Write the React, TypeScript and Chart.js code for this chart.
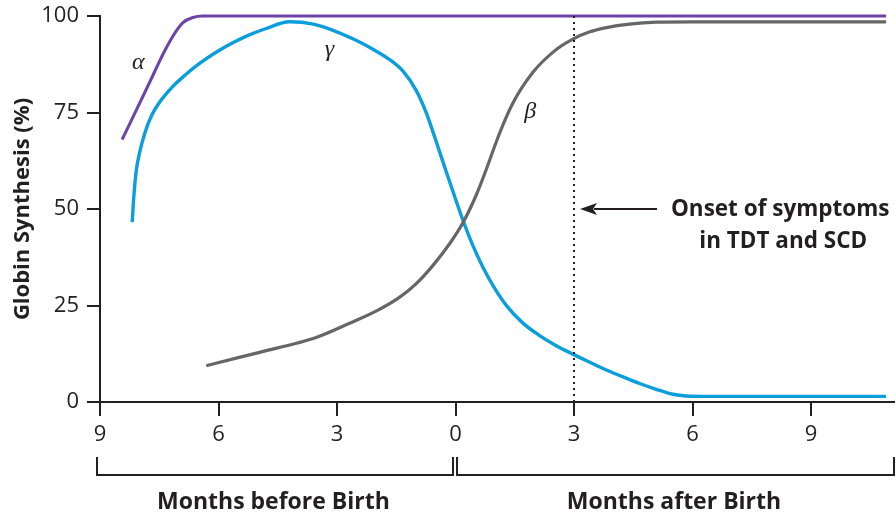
import { useEffect, useRef } from "react";
import { Chart, registerables } from "chart.js";

Chart.register(...registerables);

// ---- data (months relative to birth; negative = before birth) ----
const alphaMonths = [-8.44, -7.8, -7.37, -7.11, -6.9, -6.65, -6.4, -5, 0, 5, 10.9];
const alphaValues = [68, 81.6, 90.8, 95.5, 98.3, 99.6, 100, 100, 100, 100, 100];

const gammaMonths = [
  -8.185, -8.14, -8.08, -8.0, -7.87, -7.7, -7.49, -7.19, -6.82, -6.48, -6.06, -5.65, -5.22, -4.81, -4.2,
  -3.6, -3.1, -2.6, -2.18, -1.67, -1.33, -1.0, -0.74, -0.5, -0.25, 0, 0.18, 0.44, 0.69, 1.0, 1.28, 1.7,
  2.13, 2.55, 2.97, 3.4, 3.82, 4.24, 4.66, 5.08, 5.5, 5.85, 6.3, 10.9,
];
const gammaValues = [
  46.6, 53.7, 60.1, 64.5, 69.5, 74.1, 77.7, 81.4, 84.9, 87.7, 90.6, 93.0, 95.1, 96.7, 98.5,
  97.9, 96.3, 94.1, 91.9, 88.7, 85.7, 80.8, 74.9, 67.8, 60.1, 52.6, 47.3, 40.5, 35.0, 29.3, 25.1, 20.5,
  17.2, 14.6, 12.4, 10.3, 8.3, 6.5, 4.8, 3.3, 2.0, 1.55, 1.45, 1.45,
];

const betaMonths = [
  -6.31, -5.5, -4.79, -4.0, -3.53, -2.68, -2.0, -1.42, -1.0, -0.57, -0.15, 0.18, 0.52, 0.78, 1.11, 1.45,
  1.96, 2.5, 2.97, 3.4, 3.82, 4.4, 5.08, 6.0, 10.9,
];
const betaValues = [
  9.4, 11.5, 13.3, 15.3, 16.7, 20.4, 23.6, 27.1, 30.6, 35.4, 41.0, 46.3, 53.5, 60.3, 69.5, 77.4,
  85.4, 90.9, 94.0, 95.9, 97.0, 97.9, 98.4, 98.5, 98.5,
];

const onsetMonths = [3, 3];
const onsetValues = [0, 100];

const xTickValues = [-9, -6, -3, 0, 3, 6, 9];
const yTickValues = [0, 25, 50, 75, 100];

const seriesNames = ["α", "γ", "β"];
const periodLabels = ["Months before Birth", "Months after Birth"];
const onsetLabel = ["Onset of symptoms", "in TDT and SCD"];

const INK = "#231f20";
const PURPLE = "#6e43a8";
const BLUE = "#0a9fdc";
const GRAY = "#666666";

const toXY = (xs: number[], ys: number[]) => xs.map((x, i) => ({ x, y: ys[i] }));

const annotationPlugin = {
  id: "annotations",
  afterDraw(chart: any) {
    const { ctx, scales, chartArea } = chart;
    const xs = scales.x;
    const ys = scales.y;
    const px = (v: number) => xs.getPixelForValue(v);
    const py = (v: number) => ys.getPixelForValue(v);
    ctx.save();

    // greek labels
    ctx.fillStyle = INK;
    ctx.font = 'italic 24px "Liberation Serif", "DejaVu Serif", serif';
    ctx.textAlign = "center";
    ctx.textBaseline = "middle";
    const greekPos = [
      [-8.03, 87.8],
      [-3.19, 91.2],
      [1.89, 75.2],
    ];
    seriesNames.forEach((n, i) => {
      ctx.fillText(n, px(greekPos[i][0]), py(greekPos[i][1]));
    });

    // arrow
    const ay = py(50);
    ctx.strokeStyle = INK;
    ctx.lineWidth = 2;
    ctx.beginPath();
    ctx.moveTo(px(5.1), ay);
    ctx.lineTo(px(onsetMonths[0]) + 20, ay);
    ctx.stroke();
    ctx.beginPath();
    const tip = px(onsetMonths[0]) + 6;
    ctx.moveTo(tip, ay);
    ctx.lineTo(tip + 17, ay - 6);
    ctx.lineTo(tip + 13, ay);
    ctx.lineTo(tip + 17, ay + 6);
    ctx.closePath();
    ctx.fillStyle = INK;
    ctx.fill();

    // onset text
    ctx.font = 'bold 22.5px "Open Sans", sans-serif';
    ctx.textAlign = "center";
    const tx = px(8.22);
    ctx.fillText(onsetLabel[0], tx, ay + 1);
    ctx.fillText(onsetLabel[1], tx + 3, ay + 33);

    // brackets
    const b0 = chartArea.bottom + 55;
    const b1 = chartArea.bottom + 73;
    ctx.lineWidth = 2;
    ctx.strokeStyle = INK;
    ctx.beginPath();
    ctx.moveTo(px(-9) - 3, b0);
    ctx.lineTo(px(-9) - 3, b1);
    ctx.lineTo(px(0) - 2.5, b1);
    ctx.lineTo(px(0) - 2.5, b0);
    ctx.stroke();
    ctx.beginPath();
    ctx.moveTo(px(0) + 1.5, b0);
    ctx.lineTo(px(0) + 1.5, b1);
    ctx.lineTo(chartArea.right, b1);
    ctx.lineTo(chartArea.right, b0);
    ctx.stroke();

    // period labels
    ctx.font = 'bold 23px "Open Sans", sans-serif';
    ctx.textAlign = "center";
    ctx.textBaseline = "middle";
    ctx.fillText(periodLabels[0], px(-4.61), chartArea.bottom + 100);
    ctx.fillText(periodLabels[1], px(5.53), chartArea.bottom + 100);

    ctx.restore();
  },
};

export default function App() {
  const ref = useRef<HTMLCanvasElement>(null);

  useEffect(() => {
    document.body.style.margin = "0";
    const canvas = ref.current;
    if (!canvas) return;
    const lineDs = (label: string, xs: number[], ys: number[], color: string, width: number) => ({
      label,
      data: toXY(xs, ys),
      borderColor: color,
      backgroundColor: color,
      borderWidth: width,
      pointRadius: 0,
      showLine: true,
      fill: false,
      cubicInterpolationMode: "monotone" as const,
      clip: false as const,
      borderCapStyle: "butt" as const,
    });
    const chart = new Chart(canvas, {
      type: "scatter",
      data: {
        datasets: [
          {
            label: "onset",
            data: toXY(onsetMonths, onsetValues),
            borderColor: INK,
            borderWidth: 2,
            borderDash: [2, 4],
            pointRadius: 0,
            showLine: true,
            clip: false,
          },
          lineDs("beta", betaMonths, betaValues, GRAY, 3.2),
          lineDs("gamma", gammaMonths, gammaValues, BLUE, 3.4),
          lineDs("alpha", alphaMonths, alphaValues, PURPLE, 3),
        ],
      },
      options: {
        animation: false,
        responsive: false,
        maintainAspectRatio: false,
        layout: { padding: { top: 16, right: 2, bottom: 0, left: 0 } },
        plugins: { legend: { display: false }, tooltip: { enabled: false } },
        scales: {
          x: {
            type: "linear",
            min: -9,
            max: 11.1,
            afterBuildTicks: (s: any) => {
              s.ticks = xTickValues.map((v) => ({ value: v }));
            },
            afterFit: (s: any) => {
              s.height = 112;
              s.paddingLeft = 0;
              s.paddingRight = 0;
            },
            grid: { display: true, drawOnChartArea: false, drawTicks: true, tickLength: 14, color: INK, lineWidth: 2 },
            border: { display: true, color: INK, width: 2 },
            ticks: {
              color: INK,
              padding: 6,
              maxRotation: 0,
              autoSkip: false,
              font: { family: '"Open Sans", sans-serif', size: 22 },
              callback: (v: any) => String(Math.abs(Number(v))),
            },
          },
          y: {
            type: "linear",
            min: 0,
            max: 100,
            afterBuildTicks: (s: any) => {
              s.ticks = yTickValues.map((v) => ({ value: v }));
            },
            afterFit: (s: any) => {
              s.width = 100;
              s.paddingTop = 0;
              s.paddingBottom = 0;
            },
            grid: { display: true, drawOnChartArea: false, drawTicks: true, tickLength: 13, color: INK, lineWidth: 2 },
            border: { display: true, color: INK, width: 2 },
            title: {
              display: true,
              text: "Globin Synthesis (%)",
              color: INK,
              padding: { top: 10, bottom: 4 },
              font: { family: '"Open Sans", sans-serif', size: 22, weight: "bold" },
            },
            ticks: {
              color: INK,
              padding: 8,
              font: { family: '"Open Sans", sans-serif', size: 22 },
            },
          },
        },
      },
      plugins: [annotationPlugin],
    });
    return () => chart.destroy();
  }, []);

  return (
    <div style={{ width: 896, height: 514, background: "#fff" }}>
      <canvas ref={ref} width={896} height={514} style={{ display: "block" }} />
    </div>
  );
}
